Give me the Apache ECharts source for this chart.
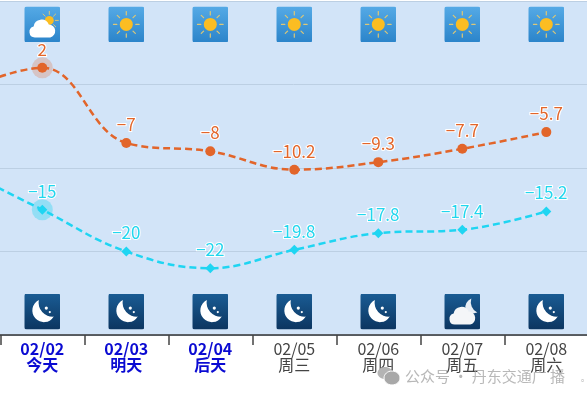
<!DOCTYPE html>
<html><head><meta charset="utf-8">
<style>html,body{margin:0;padding:0;background:#fff}#c{width:587px;height:400px}</style>
<script src="https://cdn.jsdelivr.net/npm/echarts@6/dist/echarts.min.js"></script>
</head><body><div id="c"></div>
<script>
// Leading 02/01 lies just off the left edge: only its line segment enters the picture.
const dates = ['02/01','02/02','02/03','02/04','02/05','02/06','02/07','02/08'];
const dayNames = ['','今天','明天','后天','周三','周四','周五','周六'];
const highs = [-1,2,-7,-8,-10.2,-9.3,-7.7,-5.7];
const lows = [-10,-15,-20,-22,-19.8,-17.8,-17.4,-15.2];
const dayIcons = ['','partly','sunny','sunny','sunny','sunny','sunny','sunny'];
const nightIcons = ['','moon','moon','moon','moon','moon','cloudmoon','moon'];
const dayIconLevel = 7.2, nightIconLevel = -27.2;
const todayIndex = 1;

const cloud = (c)=>`<path d="M10.5 31a5.6 5.6 0 0 1-1.2-11a8 8 0 0 1 15.2-2a6.6 6.6 0 0 1 1.4 13z" fill="${c}"/>`;
const rays = (cx,cy,r1,r2,col,w)=>{let s='';for(let i=0;i<8;i++){const a=i*Math.PI/4;
  s+=`<line x1="${cx+r1*Math.cos(a)}" y1="${cy+r1*Math.sin(a)}" x2="${cx+r2*Math.cos(a)}" y2="${cy+r2*Math.sin(a)}" stroke="${col}" stroke-width="${w}" stroke-linecap="round"/>`;}return s;};
const box = (id,a,b,inner)=>`<svg xmlns="http://www.w3.org/2000/svg" width="72" height="72" viewBox="0 0 36 36"><defs><linearGradient id="${id}" x1="0" y1="0" x2="0" y2="1"><stop offset="0" stop-color="${a}"/><stop offset="1" stop-color="${b}"/></linearGradient></defs><rect width="36" height="36" rx="2.5" fill="url(#${id})"/>${inner}</svg>`;
const moonPath = '<path d="M14.5 6.5A11.6 11.6 0 1 0 29.5 23A14 14 0 0 1 14.5 6.5z" fill="#fff"/><circle cx="22" cy="14.5" r="1.6" fill="#fff"/><circle cx="25.5" cy="18.5" r="1.1" fill="#fff"/>';
const svgs = {
  sunny: box('a','#55aae6','#2b84ca', rays(18,18,9.5,12.8,'#dcc777',1.2)+'<circle cx="18" cy="18" r="6.5" fill="#fbbd22"/>'),
  partly: box('b','#55aae6','#2b84ca', rays(25,14,6,9,'#dcc777',1)+'<circle cx="25" cy="14" r="4.5" fill="#fbbd22"/>'+cloud('#fff')),
  moon: box('c','#1a5c94','#0c3560', moonPath),
  cloudmoon: box('d','#1a5c94','#0c3560','<path d="M27 5A11 11 0 0 0 21 16A11 11 0 0 0 33 19A12 12 0 0 1 27 5z" fill="#e8eef5"/>'+cloud('#f4f6f8'))
};
const sym = k => 'image://data:image/svg+xml;charset=utf-8,' + encodeURIComponent(svgs[k]);
const iconData = (names, level) => names.map((k,i)=> k ? {value:[dates[i],level],symbol:sym(k)} : null).filter(Boolean);
const fmt = v => String(v).replace('-','\u2212');
const HIGH='#e2652a', LOW='#1fd5f2';
const lineLabel = c => ({show:true,position:'top',distance:5,fontFamily:'Noto Sans CJK SC',fontSize:17,color:c,textBorderColor:'#fff',textBorderWidth:2,formatter:p=>fmt(p.value)});
const lineDash = [7,4];

const chart = echarts.init(document.getElementById('c'),null,{renderer:'canvas'});
chart.setOption({
  animation:false,
  backgroundColor:'#fff',
  grid:{left:-83.7,width:672,top:1,height:334,show:true,backgroundColor:'#d2e4f8',borderWidth:0,outerBoundsMode:'none',containLabel:false},
  xAxis:{type:'category',data:dates,boundaryGap:true,
    axisLine:{onZero:false,lineStyle:{color:'#333',width:1.5}},
    axisTick:{show:true,length:10,lineStyle:{color:'#444',width:1.5}},
    axisLabel:{interval:0,margin:6,lineHeight:16,
      formatter:(v,i)=>{ if(!dayNames[i]) return ''; const s=i<=3?'hot':'cold'; return `{${s}|${v}}\n{${s}|${dayNames[i]}}`; },
      rich:{hot:{fontFamily:'Noto Sans CJK SC',fontSize:16,fontWeight:'bold',color:'#0a0ad2',lineHeight:16},
            cold:{fontFamily:'Noto Sans CJK SC',fontSize:16,color:'#444',lineHeight:16}}}},
  yAxis:{type:'value',min:-30,max:10,interval:10,
    axisLine:{show:false},axisTick:{show:false},axisLabel:{show:false},
    splitLine:{lineStyle:{color:'#bccfe3',width:1}}},
  series:[
    {type:'scatter',silent:true,z:1,symbol:'circle',symbolSize:21,itemStyle:{opacity:1,color:'rgba(226,101,42,0.25)'},data:[[dates[todayIndex],highs[todayIndex]]]},
    {type:'scatter',silent:true,z:1,symbol:'circle',symbolSize:21,itemStyle:{opacity:1,color:'rgba(31,213,242,0.35)'},data:[[dates[todayIndex],lows[todayIndex]]]},
    {type:'line',name:'高温',data:highs,smooth:0.4,symbol:'circle',symbolSize:10,z:3,
      lineStyle:{color:HIGH,width:2.5,type:lineDash},itemStyle:{color:HIGH},label:lineLabel(HIGH)},
    {type:'line',name:'低温',data:lows,smooth:0.4,symbol:'diamond',symbolSize:10,z:3,
      lineStyle:{color:LOW,width:2.5,type:lineDash},itemStyle:{color:LOW},label:lineLabel('#22d6ee')},
    {type:'scatter',silent:true,z:4,symbolSize:36,itemStyle:{opacity:1},data:iconData(dayIcons,dayIconLevel)},
    {type:'scatter',silent:true,z:4,symbolSize:36,itemStyle:{opacity:1},data:iconData(nightIcons,nightIconLevel)}
  ],
  graphic:[
    {type:'ellipse',shape:{cx:385,cy:373,rx:7.5,ry:6},style:{fill:'#b4b4b4'},z:20},
    {type:'ellipse',shape:{cx:392,cy:378,rx:8,ry:7},style:{fill:'#a8a8a8',stroke:'#fff',lineWidth:1},z:21},
    {type:'text',left:405,top:369,z:20,style:{text:'公众号 · 丹东交通广 播',font:'15px "Noto Sans CJK SC"',fill:'rgba(160,160,160,0.75)'}},
    {type:'text',left:581,top:374,z:20,style:{text:'。',font:'8px "Noto Sans CJK SC"',fill:'rgba(150,150,150,0.8)'}}
  ]
});
</script></body></html>
